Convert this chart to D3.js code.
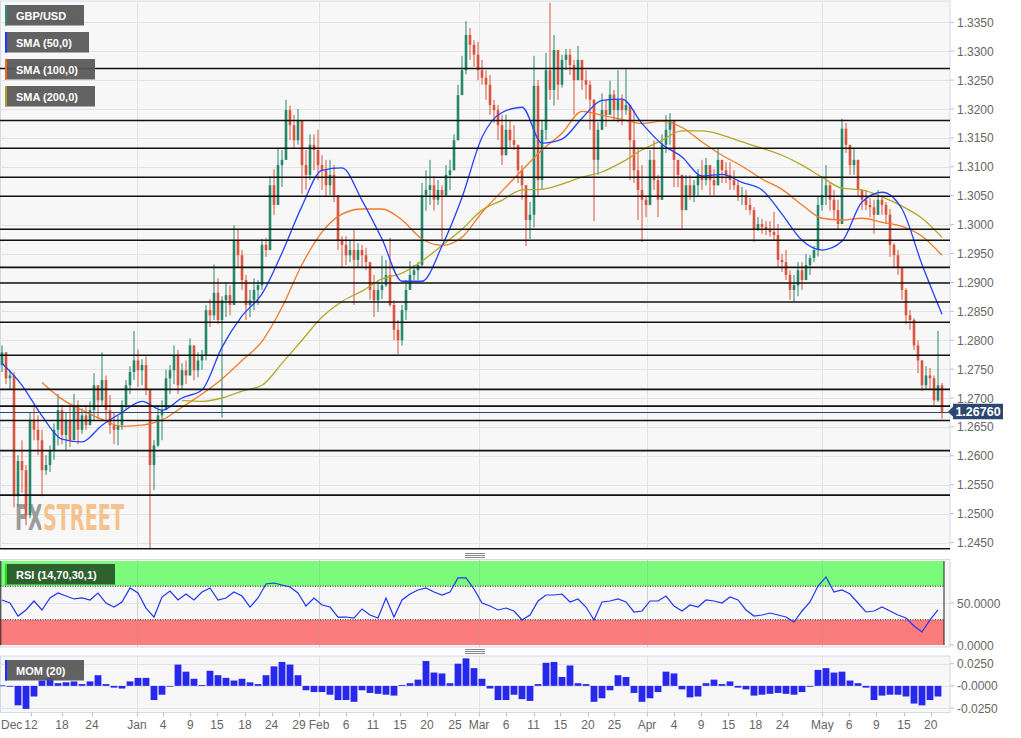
<!DOCTYPE html>
<html><head><meta charset="utf-8">
<script src="https://cdn.jsdelivr.net/npm/d3@7"></script>
<style>
html,body{margin:0;padding:0;background:#fff;}
svg{display:block;font-family:"Liberation Sans",Arial,sans-serif;}
</style></head><body>
<svg id="c" width="1021" height="738"></svg>
<script>
// ---------- DATA (GBP/USD, 12h-ish candles) ----------
const symbol = "GBP/USD";
const firstOpen = 1.2757;
const closes = [
1.2779,1.2734,1.2739,1.2530,1.2591,1.2575,1.2497,1.2662,1.2645,1.2627,
1.2575,1.2584,1.2610,1.2645,1.2679,1.2636,1.2662,1.2627,1.2688,1.2645,
1.2670,1.2653,1.2679,1.2722,1.2696,1.2731,1.2679,1.2653,1.2645,1.2653,
1.2688,1.2722,1.2745,1.2765,1.2748,1.2757,1.2714,1.2584,1.2618,1.2670,
1.2679,1.2734,1.2748,1.2774,1.2722,1.2748,1.2739,1.2791,1.2748,1.2765,
1.2774,1.2852,1.2843,1.2882,1.2835,1.2869,1.2878,1.2861,1.2973,1.2947,
1.2904,1.2861,1.2869,1.2887,1.2895,1.2965,1.2956,1.3068,1.3034,1.3103,
1.3112,1.3198,1.3172,1.3146,1.3181,1.3103,1.3086,1.3138,1.3129,1.3103,
1.3094,1.3068,1.3086,1.3051,1.2973,1.2965,1.2947,1.2956,1.2939,1.2956,
1.2947,1.2935,1.2887,1.2869,1.2887,1.2895,1.2913,1.2861,1.2818,1.2800,
1.2852,1.2887,1.2913,1.2921,1.2930,1.3051,1.3060,1.3068,1.3043,1.3060,
1.3051,1.3086,1.3094,1.3146,1.3224,1.3267,1.3328,1.3311,1.3294,1.3267,
1.3254,1.3242,1.3207,1.3198,1.3172,1.3120,1.3164,1.3146,1.3138,1.3094,
1.3068,1.3008,1.3017,1.3240,1.3077,1.3164,1.3267,1.3233,1.3302,1.3242,
1.3285,1.3294,1.3276,1.3250,1.3285,1.3250,1.3242,1.3216,1.3112,1.3164,
1.3198,1.3190,1.3225,1.3198,1.3216,1.3198,1.3207,1.3146,1.3094,1.3060,
1.3043,1.3034,1.3112,1.3077,1.3043,1.3138,1.3164,1.3181,1.3112,1.3086,
1.3025,1.3068,1.3051,1.3068,1.3086,1.3077,1.3103,1.3077,1.3068,1.3112,
1.3094,1.3086,1.3077,1.3068,1.3051,1.3051,1.3034,1.3025,1.2991,1.3001,
1.2996,1.2991,1.2987,1.2982,1.2939,1.2935,1.2913,1.2887,1.2895,1.2921,
1.2904,1.2930,1.2942,1.2956,1.3034,1.3051,1.3068,1.3043,1.3025,1.3001,
1.3166,1.3138,1.3103,1.3112,1.3060,1.3043,1.3034,1.3030,1.3017,1.3043,
1.3034,1.3017,1.2965,1.2947,1.2925,1.2887,1.2843,1.2835,1.2791,1.2765,
1.2722,1.2739,1.2734,1.2696,1.2722,1.2676];
const highs = [
1.2791,1.2765,1.2748,1.2745,1.2601,1.2627,1.2584,1.2675,1.2688,1.2670,
1.2645,1.2601,1.2618,1.2656,1.2707,1.2688,1.2675,1.2688,1.2707,1.2696,
1.2682,1.2688,1.2694,1.2743,1.2719,1.2779,1.2739,1.2705,1.2675,1.2670,
1.2696,1.2731,1.2755,1.2816,1.2784,1.2767,1.2772,1.2710,1.2627,1.2688,
1.2696,1.2749,1.2757,1.2791,1.2783,1.2760,1.2765,1.2803,1.2784,1.2779,
1.2783,1.2861,1.2871,1.2931,1.2907,1.2876,1.2900,1.2895,1.2999,1.2992,
1.2956,1.2913,1.2887,1.2907,1.2904,1.2975,1.2977,1.3084,1.3096,1.3133,
1.3129,1.3216,1.3206,1.3190,1.3200,1.3146,1.3129,1.3156,1.3156,1.3164,
1.3120,1.3112,1.3112,1.3103,1.3048,1.2980,1.2980,1.2973,1.2992,1.2968,
1.2965,1.2960,1.2925,1.2913,1.2904,1.2946,1.2939,1.2977,1.2869,1.2835,
1.2861,1.2904,1.2937,1.2930,1.2935,1.3072,1.3094,1.3112,1.3084,1.3077,
1.3068,1.3103,1.3112,1.3156,1.3242,1.3292,1.3352,1.3340,1.3319,1.3316,
1.3285,1.3267,1.3259,1.3216,1.3207,1.3190,1.3190,1.3181,1.3172,1.3129,
1.3103,1.3060,1.3039,1.3292,1.3250,1.3181,1.3297,1.3384,1.3328,1.3297,
1.3294,1.3304,1.3304,1.3285,1.3309,1.3285,1.3267,1.3249,1.3217,1.3177,
1.3227,1.3216,1.3249,1.3233,1.3267,1.3225,1.3269,1.3198,1.3198,1.3133,
1.3103,1.3050,1.3129,1.3146,1.3086,1.3156,1.3189,1.3193,1.3139,1.3103,
1.3086,1.3086,1.3086,1.3077,1.3096,1.3112,1.3115,1.3103,1.3096,1.3133,
1.3108,1.3108,1.3108,1.3094,1.3077,1.3065,1.3060,1.3046,1.3030,1.3013,
1.3010,1.3006,1.3006,1.3022,1.3001,1.2949,1.2956,1.2921,1.2913,1.2935,
1.2935,1.2949,1.2947,1.2963,1.3048,1.3084,1.3103,1.3072,1.3060,1.3043,
1.3183,1.3176,1.3133,1.3133,1.3103,1.3060,1.3060,1.3046,1.3043,1.3060,
1.3051,1.3039,1.3027,1.2968,1.2956,1.2925,1.2890,1.2852,1.2838,1.2800,
1.2765,1.2755,1.2752,1.2739,1.2816,1.2726];
const lows = [
1.2745,1.2724,1.2714,1.2511,1.2512,1.2536,1.2480,1.2492,1.2627,1.2601,
1.2530,1.2567,1.2572,1.2593,1.2618,1.2620,1.2608,1.2615,1.2627,1.2620,
1.2638,1.2645,1.2656,1.2662,1.2663,1.2688,1.2662,1.2638,1.2620,1.2618,
1.2645,1.2679,1.2707,1.2731,1.2719,1.2722,1.2705,1.2438,1.2541,1.2615,
1.2627,1.2696,1.2707,1.2724,1.2707,1.2714,1.2724,1.2743,1.2731,1.2736,
1.2749,1.2765,1.2823,1.2835,1.2828,1.2666,1.2840,1.2843,1.2861,1.2925,
1.2887,1.2835,1.2840,1.2852,1.2861,1.2887,1.2944,1.2956,1.3017,1.3043,
1.3065,1.3129,1.3146,1.3133,1.3138,1.3053,1.3060,1.3077,1.3094,1.3077,
1.3060,1.3048,1.3051,1.3039,1.2956,1.2925,1.2930,1.2935,1.2861,1.2925,
1.2925,1.2921,1.2870,1.2840,1.2849,1.2871,1.2892,1.2858,1.2800,1.2776,
1.2791,1.2835,1.2887,1.2904,1.2904,1.2925,1.3024,1.3034,1.3024,1.3034,
1.2975,1.3048,1.3060,1.3094,1.3146,1.3237,1.3260,1.3285,1.3273,1.3250,
1.3242,1.3216,1.3190,1.3176,1.3146,1.3103,1.3133,1.3133,1.3129,1.3072,
1.3043,1.2963,1.2975,1.2995,1.3048,1.3060,1.3146,1.3216,1.3206,1.3216,
1.3237,1.3267,1.3259,1.3190,1.3250,1.3233,1.3217,1.3164,1.3006,1.3086,
1.3164,1.3169,1.3190,1.3181,1.3177,1.3172,1.3190,1.3077,1.3072,1.3008,
1.2970,1.3013,1.3034,1.3060,1.3013,1.3043,1.3124,1.3138,1.3065,1.3065,
1.2992,1.3039,1.3043,1.3039,1.3048,1.3060,1.3068,1.3051,1.3051,1.3086,
1.3072,1.3072,1.3060,1.3060,1.3041,1.3034,1.3025,1.3017,1.2970,1.2989,
1.2984,1.2982,1.2979,1.2973,1.2925,1.2918,1.2904,1.2870,1.2866,1.2876,
1.2887,1.2907,1.2913,1.2935,1.2945,1.3024,1.3034,1.3024,1.3008,1.2992,
1.3001,1.3124,1.3086,1.3086,1.3048,1.3025,1.3025,1.3013,1.2984,1.3025,
1.3017,1.3001,1.2944,1.2925,1.2913,1.2870,1.2828,1.2818,1.2783,1.2743,
1.2712,1.2714,1.2715,1.2688,1.2693,1.2664];

// moving averages, one reading every 5 candles
const smaStep = 5;
const sma50 = [1.2760,1.2722,1.2669,1.2629,1.2624,1.2653,1.2675,1.2694,1.2679,1.2700,
1.2714,1.2788,1.2842,1.2880,1.2951,1.3032,1.3094,1.3098,1.3042,1.2975,
1.2902,1.2902,1.2963,1.3047,1.3151,1.3194,1.3203,1.3141,1.3148,1.3184,
1.3215,1.3217,1.3175,1.3139,1.3117,1.3084,1.3087,1.3073,1.3060,1.3018,
1.2973,1.2956,1.2971,1.3039,1.3056,1.3027,1.2931,1.2845];
const sma100 = [null,null,1.2727,1.2698,1.2679,1.2663,1.2651,1.2653,1.2662,1.2684,
1.2707,1.2733,1.2765,1.2798,1.2857,1.2931,1.2987,1.3018,1.3027,1.3027,
1.3008,1.2975,1.2964,1.2978,1.3021,1.3058,1.3094,1.3129,1.3158,1.3196,
1.3189,1.3182,1.3175,1.3179,1.3168,1.3143,1.3120,1.3101,1.3079,1.3061,
1.3034,1.3011,1.3008,1.3011,1.3004,1.2997,1.2980,1.2947];
const sma200 = [null,null,null,null,null,null,null,null,null,1.2696,
1.2694,1.2700,1.2712,1.2722,1.2760,1.2800,1.2840,1.2867,1.2885,1.2906,
1.2916,1.2937,1.2964,1.2992,1.3025,1.3042,1.3060,1.3061,1.3070,1.3082,
1.3091,1.3108,1.3129,1.3146,1.3162,1.3162,1.3155,1.3143,1.3132,1.3120,
1.3103,1.3082,1.3063,1.3060,1.3048,1.3032,1.3011,1.2978];

// RSI(14) and MOM(20), one reading every 2 candles
const oscStep = 2;
const rsi = [53.6,50.0,34.5,41.7,52.4,41.7,56.0,61.9,58.3,54.8,
56.0,53.6,61.9,50.0,45.2,51.2,67.9,61.9,44.0,33.3,
57.1,64.3,53.6,60.7,53.6,63.1,67.9,53.6,56.0,63.1,
58.3,45.2,56.0,72.6,73.8,71.4,69.0,61.9,46.4,56.0,
47.6,45.2,33.3,33.3,32.1,42.9,35.7,32.1,56.0,33.3,
53.6,60.7,65.5,67.9,63.1,59.5,63.1,79.8,79.8,66.7,
50.0,46.4,41.7,44.0,40.5,29.8,35.7,52.4,59.5,59.5,
60.7,51.2,54.8,45.2,29.8,51.2,52.4,54.8,51.2,39.3,
40.5,52.4,52.4,58.3,46.4,40.5,47.6,45.2,53.6,52.4,
50.0,57.1,53.6,41.7,34.5,35.7,38.1,35.7,33.3,27.4,
40.5,51.2,70.2,81.0,63.1,65.5,60.7,50.0,39.3,40.5,
45.2,40.5,35.7,32.1,22.6,15.5,29.8,41.7];
const mom = [0.0005,-0.001,-0.022,-0.026,-0.012,0.006,0.009,0.003,0.004,0.005,
0.002,0.005,0.012,0.002,-0.002,-0.003,0.005,0.009,0.009,-0.016,
-0.010,0.000,0.024,0.016,0.008,0.001,0.017,0.012,0.009,0.006,
0.008,0.004,0.002,0.012,0.022,0.027,0.024,0.012,-0.005,-0.007,
-0.007,-0.010,-0.016,-0.016,-0.018,-0.005,-0.008,-0.009,-0.010,-0.011,
0.001,0.003,0.007,0.028,0.015,0.014,0.003,0.025,0.031,0.020,
0.008,-0.003,-0.016,-0.016,-0.010,-0.015,-0.017,0.002,0.026,0.027,
0.010,0.023,0.003,0.002,-0.018,-0.014,-0.005,0.012,0.010,-0.008,
-0.018,-0.014,-0.007,0.016,0.014,-0.004,-0.013,-0.012,0.003,0.007,
0.002,0.005,-0.002,-0.004,-0.011,-0.010,-0.009,-0.008,-0.009,-0.010,
-0.007,-0.001,0.018,0.020,0.015,0.016,0.006,0.003,-0.002,-0.016,
-0.011,-0.010,-0.010,-0.012,-0.020,-0.022,-0.016,-0.012];

// horizontal support / resistance levels drawn on the chart
const levels = [1.3270,1.3180,1.3132,1.3082,1.3049,1.2992,1.2973,1.2926,1.2899,
1.2866,1.2831,1.2774,1.2715,1.2686,1.2661,1.2609,1.2532,1.2439];

// axes
const priceTicks = [1.2450,1.2500,1.2550,1.2600,1.2650,1.2700,1.2750,1.2800,1.2850,
1.2900,1.2950,1.3000,1.3050,1.3100,1.3150,1.3200,1.3250,1.3300,1.3350];
const rsiTicks = [0, 50];
const momTicks = [-0.025, 0, 0.025];
const firstMonth = "Dec";
const tickLabels = ["12","18","24","Jan","4","9","15","18","24","29","Feb","6","11","15","20","25",
"Mar","6","11","15","20","25","Apr","4","9","15","18","24","May","6","9","15","20"];
const tickIndex = [7.25,15,22.5,33.75,40.25,47.1,53.75,60.75,67.4,74.25,79.25,86,92.75,99.5,106.25,113.25,
119.25,126,132.9,139.6,146.5,153.1,161.25,168,174.75,181.6,188.4,195.1,205.1,211.8,218.6,225.5,232.2];
const legendItems = [
  {label:"GBP/USD", color:"#2e8b74"},
  {label:"SMA (50,0)", color:"#1a3cff"},
  {label:"SMA (100,0)", color:"#f06a1a"},
  {label:"SMA (200,0)", color:"#a8a01c"}];
const watermark = "FXSTREET";

// ---------- DRAWING ----------
const svg = d3.select("#c");
const R = 950;
const main = {top:1, bottom:549.5};
const rsiP = {top:559.5, bottom:647};
const momP = {top:656, bottom:712.5};
const GREEN = "#26876a", RED = "#d8553f";

const x = d3.scaleLinear().domain([0, closes.length - 1]).range([2, 942]);
const y = d3.scaleLinear().domain([1.2450, 1.3350]).range([542.5, 22.3]);
const yR = d3.scaleLinear().domain([0, 100]).range([645, 561]);
const yM = d3.scaleLinear().domain([-0.025, 0.025]).range([708, 663.7]);

const defs = svg.append("defs");
[["cm",main],["cr",rsiP],["co",momP]].forEach(([id,p])=>{
  defs.append("clipPath").attr("id",id).append("rect")
    .attr("x",0).attr("y",p.top).attr("width",R).attr("height",p.bottom-p.top);
});
const wg = defs.append("linearGradient").attr("id","wmg").attr("gradientUnits","userSpaceOnUse")
  .attr("x1",15).attr("x2",124).attr("y1",0).attr("y2",0);
wg.append("stop").attr("offset",0.235).attr("stop-color","#9b9b9b");
wg.append("stop").attr("offset",0.235).attr("stop-color","#f3c28d");

// pane backgrounds
[main, rsiP, momP].forEach(p => {
  svg.append("rect").attr("x",0.5).attr("y",p.top).attr("width",R-0.5).attr("height",p.bottom-p.top)
    .attr("fill","#f7f7f7").attr("stroke","#d2d9e7").attr("stroke-width",1);
});

// grids
const monthIdx = tickIndex.filter((d,i)=>isNaN(+tickLabels[i]));
const gm = svg.append("g").attr("clip-path","url(#cm)");
gm.selectAll("line.h").data(priceTicks).join("line")
  .attr("x1",0).attr("x2",R).attr("y1",d=>Math.round(y(d))+0.5).attr("y2",d=>Math.round(y(d))+0.5)
  .attr("stroke","#e3e3e3");
[main, rsiP, momP].forEach(p=>{
  svg.append("g").selectAll("line").data(monthIdx).join("line")
    .attr("x1",d=>Math.round(x(d))+0.5).attr("x2",d=>Math.round(x(d))+0.5)
    .attr("y1",p.top).attr("y2",p.bottom).attr("stroke","#e3e3e3");
});

// watermark: a single text, two colours via a hard-stop gradient
svg.append("text").attr("x",15).attr("y",530)
  .attr("font-family","'DejaVu Sans Condensed','DejaVu Sans',sans-serif").attr("font-weight","bold").attr("font-size",36)
  .attr("textLength",109).attr("lengthAdjust","spacingAndGlyphs").attr("fill","url(#wmg)").text(watermark);

// candles
const opens = closes.map((c,i)=> i===0 ? firstOpen : closes[i-1]);
const candles = closes.map((c,i)=>({i, o:opens[i], c, h:Math.max(highs[i],opens[i],c), l:Math.min(lows[i],opens[i],c)}));
const gc = svg.append("g").attr("clip-path","url(#cm)");
gc.selectAll("line.w").data(candles).join("line")
  .attr("x1",d=>x(d.i)).attr("x2",d=>x(d.i)).attr("y1",d=>y(d.h)).attr("y2",d=>y(d.l))
  .attr("stroke",d=>d.c>=d.o?GREEN:RED).attr("stroke-width",1);
gc.selectAll("rect.b").data(candles).join("rect")
  .attr("x",d=>x(d.i)-1.3).attr("width",2.6)
  .attr("y",d=>y(Math.max(d.o,d.c)))
  .attr("height",d=>Math.max(1,Math.abs(y(d.o)-y(d.c))))
  .attr("fill",d=>d.c>=d.o?GREEN:RED);

// SMAs
const smaLine = d3.line().defined(d=>d.v!=null).x(d=>x(d.i)).y(d=>y(d.v)).curve(d3.curveMonotoneX);
[[sma200,"#b3a827"],[sma100,"#f07a2a"],[sma50,"#2342ff"]].forEach(([arr,col])=>{
  const pts = arr.map((v,k)=>({i:k*smaStep, v})).filter(d=>d.i<=closes.length-1);
  gc.append("path").datum(pts).attr("d",smaLine).attr("fill","none").attr("stroke",col).attr("stroke-width",1.3);
});

// horizontal levels
gc.selectAll("line.lv").data(levels).join("line")
  .attr("x1",0).attr("x2",R).attr("y1",d=>y(d)).attr("y2",d=>y(d))
  .attr("stroke","#111").attr("stroke-width",1.6);

// last price line
const last = closes[closes.length-1];
gc.append("line").attr("x1",0).attr("x2",R).attr("y1",Math.round(y(last))+0.5).attr("y2",Math.round(y(last))+0.5)
  .attr("stroke","#2c4770").attr("stroke-width",1);

// price axis
const pa = svg.append("g").attr("font-size",12).attr("fill","#666");
priceTicks.forEach(t=>{
  svg.append("line").attr("x1",R).attr("x2",R+4).attr("y1",y(t)).attr("y2",y(t)).attr("stroke","#b8c2d6");
  pa.append("text").attr("x",957).attr("y",y(t)+4.5).text(d3.format(".4f")(t));
});
// last price marker
const ly = y(last);
svg.append("path").attr("d",`M948,${ly} L953,${ly-5} L953,${ly-8} L1003,${ly-8} L1003,${ly+7.5} L953,${ly+7.5} L953,${ly+5} Z`).attr("fill","#2c4770");
svg.append("text").attr("x",978).attr("y",ly+4.5).attr("text-anchor","middle").attr("font-size",12.5).attr("font-weight","bold").attr("fill","#fff").text(d3.format(".5f")(last));

// RSI pane
const gr = svg.append("g").attr("clip-path","url(#cr)");
gr.append("rect").attr("x",0).attr("width",944).attr("y",yR(100)).attr("height",yR(70)-yR(100)).attr("fill","#7bfa7c");
gr.append("rect").attr("x",0).attr("width",944).attr("y",yR(30)).attr("height",yR(0)-yR(30)).attr("fill","#fa7c7c");
gr.append("line").attr("x1",0).attr("x2",R).attr("y1",Math.round(yR(50))+0.5).attr("y2",Math.round(yR(50))+0.5).attr("stroke","#e3e3e3");
[70,30].forEach(v=>gr.append("line").attr("x1",0).attr("x2",944).attr("y1",yR(v)).attr("y2",yR(v)).attr("stroke","#222").attr("stroke-dasharray","1,1.5"));
[0.8,944].forEach(xx=>gr.append("line").attr("x1",xx).attr("x2",xx).attr("y1",yR(100)).attr("y2",yR(0)).attr("stroke","#222").attr("stroke-width",1));
gr.selectAll("line.mg").data(monthIdx).join("line")
  .attr("x1",d=>Math.round(x(d))+0.5).attr("x2",d=>Math.round(x(d))+0.5).attr("y1",rsiP.top).attr("y2",rsiP.bottom).attr("stroke","rgba(150,150,150,0.25)");
gr.append("path").datum(rsi.map((v,k)=>({i:k*oscStep,v})))
  .attr("d",d3.line().x(d=>x(d.i)).y(d=>yR(d.v))).attr("fill","none").attr("stroke","#2036f0").attr("stroke-width",1.2);
rsiTicks.forEach(t=>{
  svg.append("line").attr("x1",R).attr("x2",R+4).attr("y1",yR(t)).attr("y2",yR(t)).attr("stroke","#b8c2d6");
  svg.append("text").attr("x",957).attr("y",yR(t)+4.5).attr("font-size",12).attr("fill","#666").text(d3.format(".4f")(t));
});

// MOM pane
const go = svg.append("g").attr("clip-path","url(#co)");
momTicks.forEach(t=>go.append("line").attr("x1",0).attr("x2",R).attr("y1",Math.round(yM(t))+0.5).attr("y2",Math.round(yM(t))+0.5).attr("stroke","#e3e3e3"));
go.selectAll("rect").data(mom.map((v,k)=>({i:k*oscStep,v}))).join("rect")
  .attr("x",d=>x(d.i)-3.4).attr("width",6.8)
  .attr("y",d=>Math.min(yM(0),yM(d.v))).attr("height",d=>Math.max(0.8,Math.abs(yM(d.v)-yM(0))))
  .attr("fill","#2727ee");
momTicks.forEach(t=>{
  svg.append("line").attr("x1",R).attr("x2",R+4).attr("y1",yM(t)).attr("y2",yM(t)).attr("stroke","#b8c2d6");
  svg.append("text").attr("x",957).attr("y",yM(t)+4.5).attr("font-size",12).attr("fill","#666")
    .text(t===0?"-0.0000":d3.format(".4f")(t).replace("−","-"));
});

// pane separator handles
[553, 649].forEach(yy=>[0,2,4].forEach(o=>svg.append("line").attr("x1",465).attr("x2",485).attr("y1",yy+o+0.5).attr("y2",yy+o+0.5).attr("stroke","#888")));

// time axis
const ta = svg.append("g").attr("font-size",12).attr("fill","#666");
tickIndex.forEach((ti,k)=>{
  svg.append("line").attr("x1",Math.round(x(ti))+0.5).attr("x2",Math.round(x(ti))+0.5).attr("y1",momP.bottom).attr("y2",momP.bottom+4).attr("stroke","#b8c2d6");
  ta.append("text").attr("x",x(ti)).attr("y",729).attr("text-anchor","middle").text(tickLabels[k]);
});
ta.append("text").attr("x",1).attr("y",729).text(firstMonth);

// legends
const lg = svg.append("g");
function legendBox(x0,y0,w,label,fill,strip){
  lg.append("rect").attr("x",x0).attr("y",y0).attr("width",w).attr("height",20.5).attr("fill",fill);
  lg.append("rect").attr("x",x0).attr("y",y0).attr("width",2).attr("height",20.5).attr("fill",strip);
  lg.append("text").attr("x",x0+11).attr("y",y0+14.5).attr("font-size",11).attr("font-weight","bold").attr("fill","#fff").text(label);
}
const legendW = [79, 84, 90, 90];
legendItems.forEach((it,k)=>legendBox(5, 5+k*27, legendW[k], it.label, "rgba(85,85,85,0.92)", it.color));
legendBox(5, 564, 110, "RSI (14,70,30,1)", "rgba(40,85,40,0.93)", "#18e018");
legendBox(5, 660, 79, "MOM (20)", "rgba(85,85,85,0.92)", "#1a2cff");
</script>
</body></html>
